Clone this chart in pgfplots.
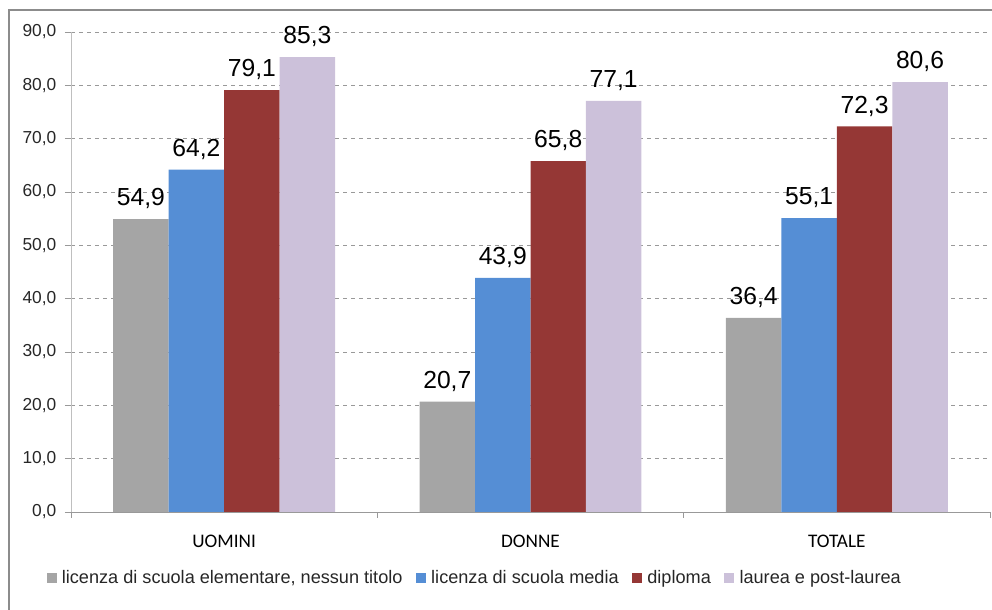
\documentclass[border=0pt]{standalone}
\usepackage{pgfplots}
\pgfplotsset{compat=1.18}
\usepackage{fontspec}
\setmainfont{Liberation Sans}
\newfontfamily\catfont{Carlito}
\definecolor{cgray}{HTML}{A5A5A5}
\definecolor{cblue}{HTML}{558ED5}
\definecolor{cred}{HTML}{953735}
\definecolor{clav}{HTML}{CCC1DA}
\definecolor{txt}{HTML}{262626}
\begin{document}
\begin{tikzpicture}
\useasboundingbox (0pt,0pt) rectangle (744pt,457.5pt);
\draw[color=gray!90, line width=1.5pt] (6.75pt,-5pt) -- (6.75pt,450pt) -- (750pt,450pt);
\begin{axis}[
  at={(53.25pt,73.5pt)}, anchor=south west,
  scale only axis, width=689.25pt, height=360pt,
  ybar=0pt, bar width=41.6pt,
  xmin=-0.5, xmax=2.5, ymin=0, ymax=90,
  ytick={0,10,...,90},
  xtick={0,1,2}, xticklabels={UOMINI,DONNE,TOTALE},
  x tick style={draw=none},
  extra x ticks={-0.5,0.5,1.5,2.5}, extra x tick labels={},
  extra x tick style={x tick style={draw=gray!80, thin}, tick align=outside, major tick length=4.5pt, grid=none},
  axis x line*=bottom, axis y line*=left,
  x axis line style={draw=gray!80, thin, -},
  y axis line style={draw=gray!50, thin, -},
  y tick style={draw=gray!80, thin}, tick align=outside, major tick length=4.5pt,
  ymajorgrids, grid style={dashed, gray!80, thin},
  /pgf/number format/assume math mode=true,
  yticklabel style={font=\fontsize{13}{15}\selectfont, text=txt, xshift=-3pt, /pgf/number format/.cd, fixed, fixed zerofill, precision=1, use comma},
  xticklabel style={font=\catfont\fontsize{14.4}{17}\selectfont, text=black, yshift=-9pt},
  nodes near coords,
  nodes near coords style={font=\fontsize{18.5}{21}\selectfont, text=black, yshift=4pt, /pgf/number format/.cd, fixed, fixed zerofill, precision=1, use comma},
  legend columns=4,
  legend style={at={(0.4396,-0.1375)}, anchor=center, draw=none, fill=none,
    font=\fontsize{13.6}{16}\selectfont, text=txt,
    /tikz/every odd column/.append style={column sep=2pt},
    /tikz/every even column/.append style={column sep=8pt}},
  legend image code/.code={\fill[#1] (0pt,-3.75pt) rectangle (7.5pt,3.75pt);},
]
\addplot[fill=cgray, draw=none] coordinates {(0,54.9) (1,20.7) (2,36.4)};
\addplot[fill=cblue, draw=none] coordinates {(0,64.2) (1,43.9) (2,55.1)};
\addplot[fill=cred, draw=none] coordinates {(0,79.1) (1,65.8) (2,72.3)};
\addplot[fill=clav, draw=none] coordinates {(0,85.3) (1,77.1) (2,80.6)};
\legend{{licenza di scuola elementare, nessun titolo}, licenza di scuola media, diploma, laurea e post-laurea}
\end{axis}
\end{tikzpicture}
\end{document}
